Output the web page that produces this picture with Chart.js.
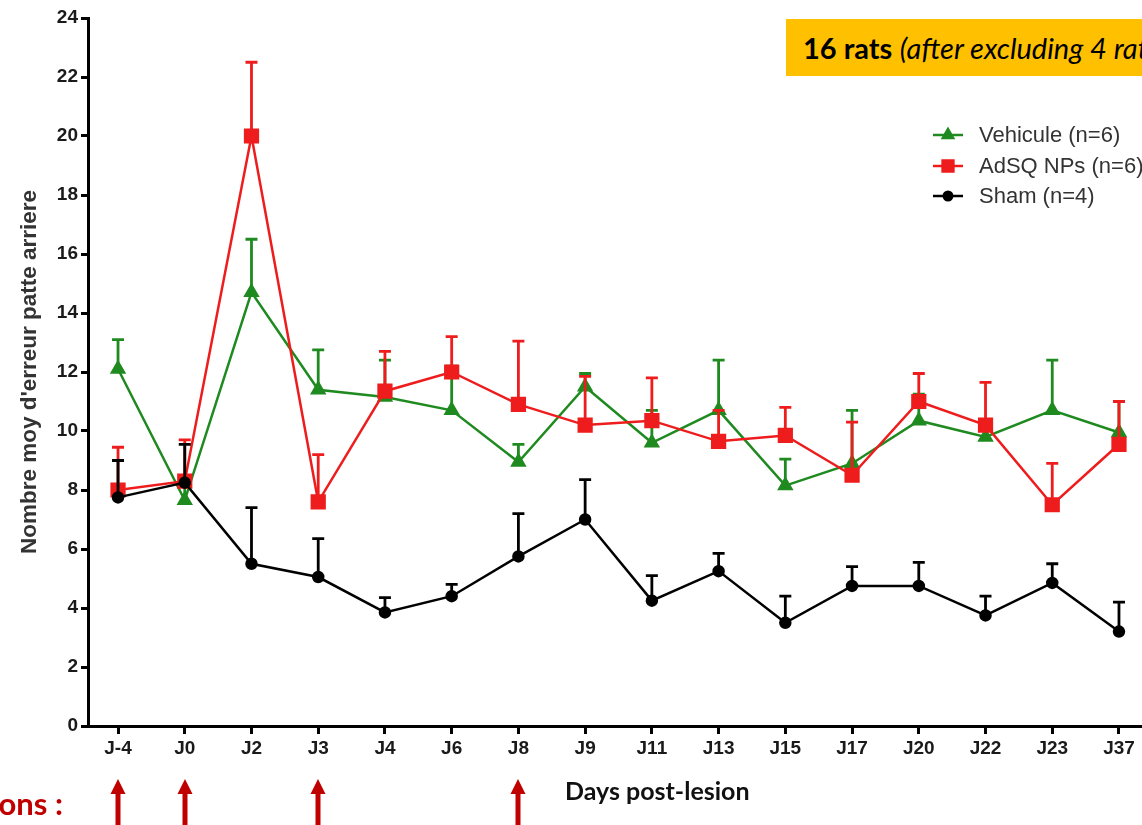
<!DOCTYPE html>
<html>
<head>
<meta charset="utf-8">
<script src="https://cdn.jsdelivr.net/npm/chart.js@4.4.1/dist/chart.umd.min.js"></script>
<style>
  html, body { margin: 0; padding: 0; background: #fff; overflow: hidden; }
  #wrap { position: relative; width: 1142px; height: 825px; overflow: hidden; }
  canvas { position: absolute; left: 0; top: 0; }
  .note { position: absolute; white-space: nowrap; font-family: Lato, "Open Sans", sans-serif; }
  #banner { left: 786px; top: 19px; width: 420px; height: 57px; line-height: 57px; background: #FFC000;
            padding-left: 17px; font-size: 29px; color: #000; }
  #banner b { font-weight: 700; }
  #banner i { font-style: italic; }
  #inj { right: 1079px; top: 788px; line-height: 31px; font-size: 31px; font-weight: 700; color: #C00000; }
  #days { left: 565px; top: 775px; font-size: 25px; font-weight: 700; color: #111; }
</style>
</head>
<body>
<div id="wrap">
  <canvas id="c" width="1142" height="825"></canvas>
  <div class="note" id="banner"><b>16 rats</b> <i>(after excluding 4 rats)</i></div>
  <div class="note" id="inj">Injections :</div>
  <div class="note" id="days">Days post-lesion</div>
</div>
<script>
// ---- data ----
const days = ['J-4','J0','J2','J3','J4','J6','J8','J9','J11','J13','J15','J17','J20','J22','J23','J37'];
const injectionDays = ['J-4','J0','J3','J8'];

const vehiculeMean = [12.1, 7.65, 14.7, 11.4, 11.15, 10.7, 8.95, 11.5, 9.6, 10.7, 8.15, 8.9, 10.35, 9.8, 10.7, 9.95];
const vehiculeSem  = [1.0, 0.55, 1.8, 1.35, 1.25, 1.5, 0.6, 0.45, 1.1, 1.7, 0.9, 1.8, 0.9, 0.3, 1.7, 1.05];

const adsqMean = [8.0, 8.3, 20.0, 7.6, 11.35, 12.0, 10.9, 10.2, 10.35, 9.65, 9.85, 8.5, 11.0, 10.2, 7.5, 9.55];
const adsqSem  = [1.45, 1.4, 2.5, 1.6, 1.35, 1.2, 2.15, 1.65, 1.45, 1.05, 0.95, 1.8, 0.95, 1.45, 1.4, 1.45];

const shamMean = [7.75, 8.25, 5.5, 5.05, 3.85, 4.4, 5.75, 7.0, 4.25, 5.25, 3.5, 4.75, 4.75, 3.75, 4.85, 3.2];
const shamSem  = [1.25, 1.3, 1.9, 1.3, 0.5, 0.4, 1.45, 1.35, 0.85, 0.6, 0.9, 0.65, 0.8, 0.65, 0.65, 1.0];

const yTicks = [0, 2, 4, 6, 8, 10, 12, 14, 16, 18, 20, 22, 24];

const GREEN = '#1f8a1f';
const RED = '#ee1c1c';
const BLACK = '#000000';

const toPts = arr => arr.map((v, i) => ({ x: i, y: v }));

// error bars (upper only, T-caps) drawn with each dataset
const errorBars = {
  id: 'errorBars',
  afterDatasetDraw(chart, args) {
    const ds = chart.data.datasets[args.index];
    if (!ds.sem) return;
    const { ctx, scales: { x, y } } = chart;
    ctx.save();
    ctx.strokeStyle = ds.borderColor;
    ctx.lineWidth = 2.8;
    ds.data.forEach((p, i) => {
      const px = x.getPixelForValue(p.x);
      const y0 = y.getPixelForValue(p.y);
      const y1 = y.getPixelForValue(p.y + ds.sem[i]);
      ctx.beginPath();
      ctx.moveTo(px, y0);
      ctx.lineTo(px, y1);
      ctx.moveTo(px - 6, y1);
      ctx.lineTo(px + 6, y1);
      ctx.stroke();
    });
    ctx.restore();
  }
};

// legend drawn inside the plot area, top right
const innerLegend = {
  id: 'innerLegend',
  afterDraw(chart) {
    const { ctx } = chart;
    const x0 = 933, x1 = 963, tx = 979;
    const rows = [135, 166, 196];
    ctx.save();
    chart.data.datasets.forEach((ds, i) => {
      const yy = rows[i];
      ctx.strokeStyle = ds.borderColor;
      ctx.fillStyle = ds.backgroundColor;
      ctx.lineWidth = 2.5;
      ctx.beginPath(); ctx.moveTo(x0, yy); ctx.lineTo(x1, yy); ctx.stroke();
      Chart.helpers.drawPoint(ctx, { pointStyle: ds.pointStyle, radius: ds.pointRadius * 0.85, rotation: 0, borderWidth: 1 }, (x0 + x1) / 2, yy);
      ctx.fillStyle = '#333';
      ctx.font = '22px "Liberation Sans", Arial, sans-serif';
      ctx.textBaseline = 'middle';
      ctx.textAlign = 'left';
      ctx.fillText(ds.label, tx, yy + 1);
    });
    ctx.restore();
  }
};

// injection arrows under the x axis
const arrows = {
  id: 'arrows',
  afterDraw(chart) {
    const { ctx, scales: { x } } = chart;
    ctx.save();
    ctx.fillStyle = '#C00000';
    injectionDays.forEach(d => {
      const px = Math.round(x.getPixelForValue(days.indexOf(d)));
      const tip = 779, bottom = 825;
      ctx.beginPath();
      ctx.moveTo(px, tip);
      ctx.lineTo(px + 7.5, tip + 15);
      ctx.lineTo(px - 7.5, tip + 15);
      ctx.closePath();
      ctx.fill();
      ctx.fillRect(px - 2.5, tip + 14, 5, bottom - tip - 14);
    });
    ctx.restore();
  }
};

const tickFont = { family: '"Liberation Sans", Arial, sans-serif', weight: 'bold' };

new Chart(document.getElementById('c'), {
  type: 'line',
  data: {
    datasets: [
      { label: 'Vehicule (n=6)', data: toPts(vehiculeMean), sem: vehiculeSem, borderColor: GREEN, backgroundColor: GREEN,
        pointStyle: 'triangle', pointRadius: 7, borderWidth: 2.5, order: 3 },
      { label: 'AdSQ NPs (n=6)', data: toPts(adsqMean), sem: adsqSem, borderColor: RED, backgroundColor: RED,
        pointStyle: 'rect', pointRadius: 9, borderWidth: 2.5, order: 2 },
      { label: 'Sham (n=4)', data: toPts(shamMean), sem: shamSem, borderColor: BLACK, backgroundColor: BLACK,
        pointStyle: 'circle', pointRadius: 5, borderWidth: 2.5, order: 1 }
    ]
  },
  options: {
    responsive: false,
    animation: false,
    events: [],
    layout: { padding: { top: 18, left: 0, right: 0, bottom: 0 }, autoPadding: false },
    elements: { line: { tension: 0 }, point: { borderWidth: 1 } },
    plugins: { legend: { display: false }, tooltip: { enabled: false } },
    scales: {
      x: {
        type: 'linear',
        min: -0.45,
        max: 15.345,
        afterBuildTicks: s => { s.ticks = days.map((_, i) => ({ value: i })); },
        afterFit: s => { s.height = 99; },
        ticks: { autoSkip: false, maxRotation: 0, padding: 3, color: '#1a1a1a',
                 font: { ...tickFont, size: 19 }, callback: v => days[v] },
        grid: { drawOnChartArea: false, tickLength: 8, lineWidth: 3, color: '#000' },
        border: { color: '#000', width: 3 }
      },
      y: {
        min: 0,
        max: 24,
        afterBuildTicks: s => { s.ticks = yTicks.map(v => ({ value: v })); },
        afterFit: s => { s.width = 88; },
        ticks: { padding: 3, color: '#1a1a1a', font: { ...tickFont, size: 19 } },
        grid: { drawOnChartArea: false, tickLength: 7, lineWidth: 3, color: '#000' },
        border: { color: '#000', width: 3 },
        title: { display: true, text: "Nombre moy d'erreur patte arriere", color: '#333',
                 font: { ...tickFont, size: 22.5 }, padding: { top: 16, bottom: 0 } }
      }
    }
  },
  plugins: [errorBars, innerLegend, arrows]
});
</script>
</body>
</html>
